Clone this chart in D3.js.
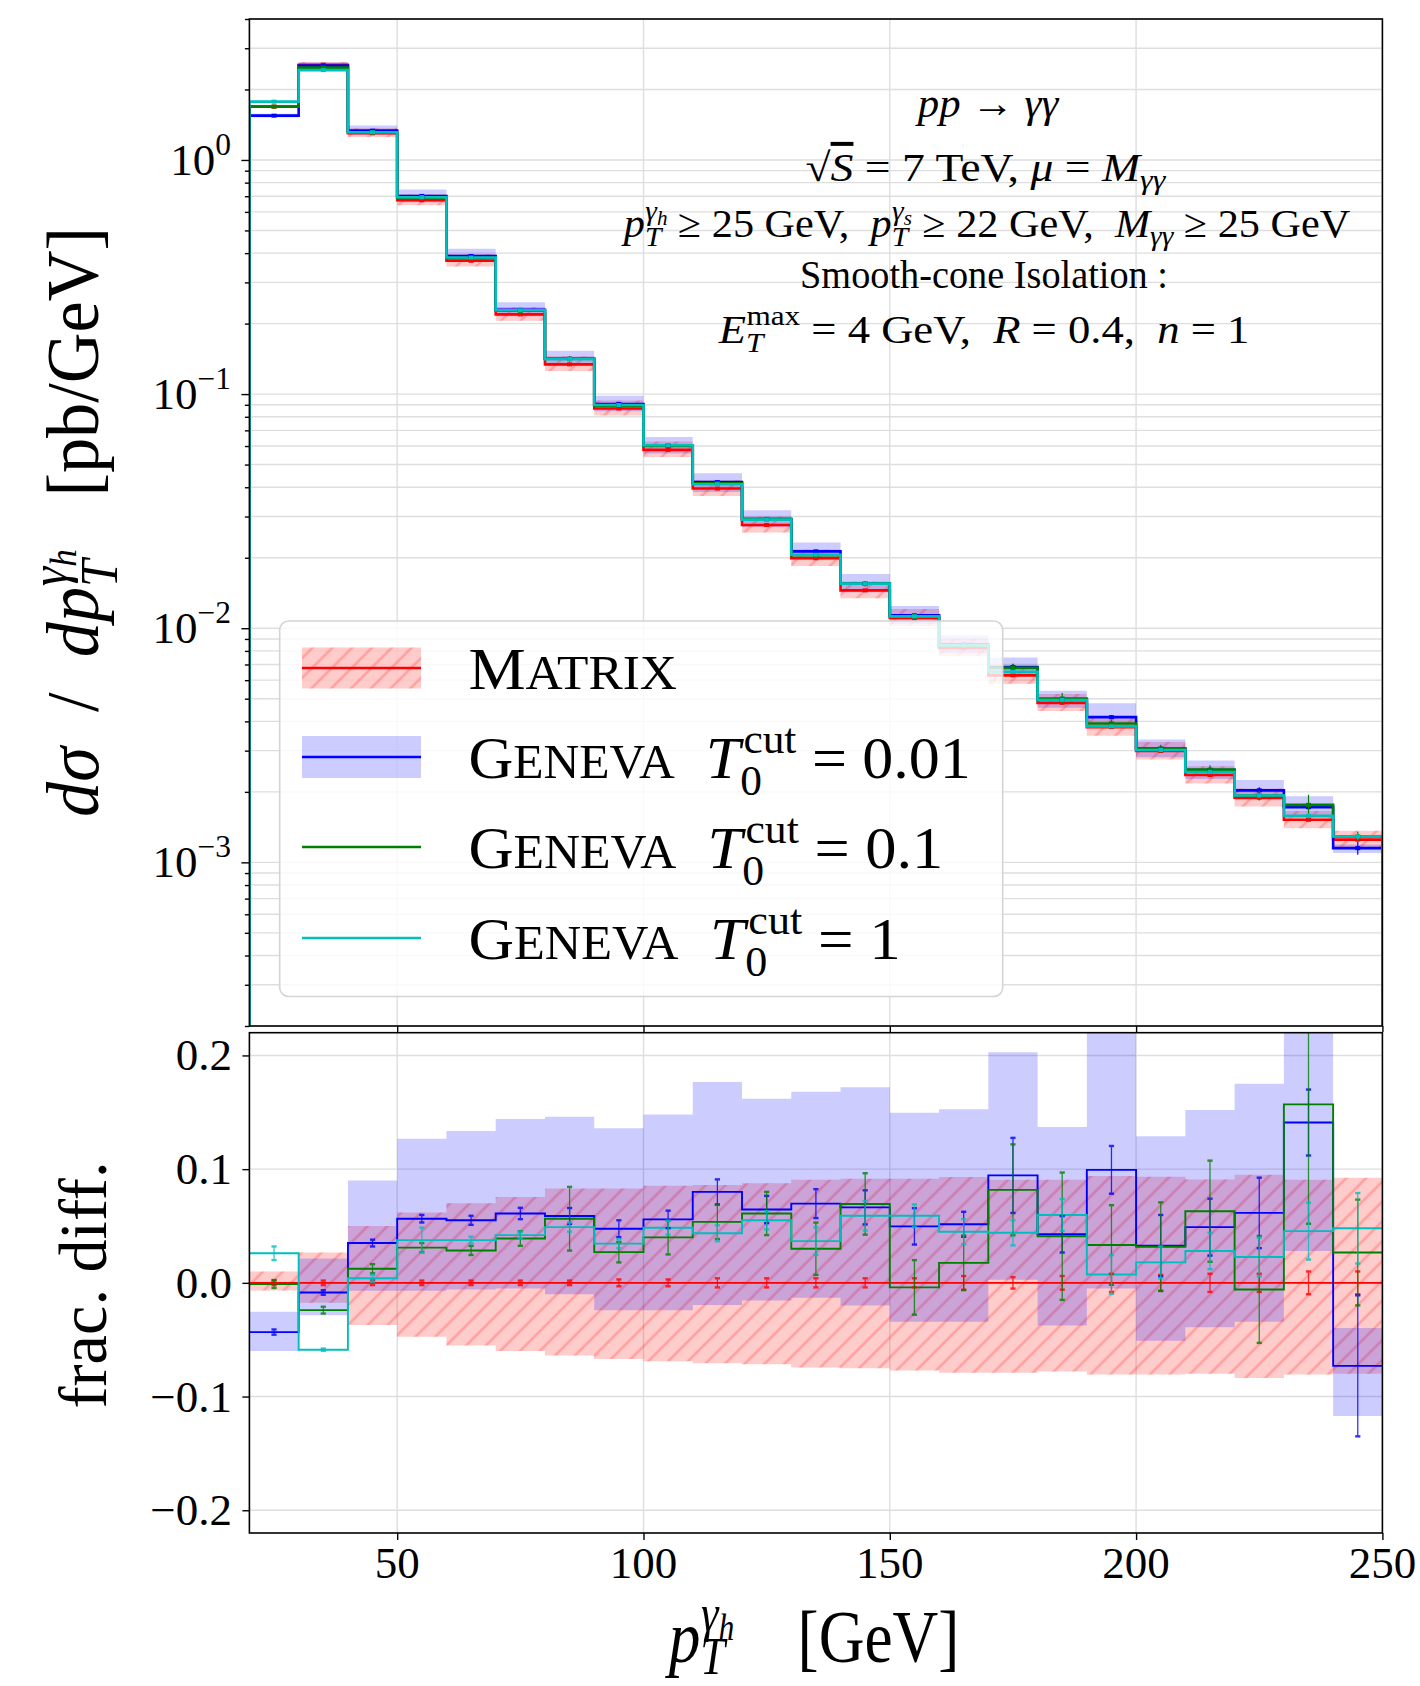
<!DOCTYPE html>
<html>
<head>
<meta charset="utf-8">
<script src="https://cdn.jsdelivr.net/npm/d3@7"></script>
<style>
  html, body { margin: 0; padding: 0; background: #fff; }
  svg { display: block; font-family: "Liberation Serif", "DejaVu Serif", serif; }
</style>
</head>
<body>
<svg id="chart" width="1420" height="1686"></svg>
<script>
// bin edges in GeV
var edges = [20, 30, 40, 50, 60, 70, 80, 90, 100, 110, 120, 130, 140, 150, 160, 170, 180, 190, 200, 210, 220, 230, 240, 250];

// d sigma / d pT  [pb/GeV], upper panel
var matrixTop    = [1.69, 2.55, 1.30, 0.673, 0.371, 0.219, 0.134, 0.0868, 0.0578, 0.0395, 0.0276, 0.0199, 0.01451, 0.01106, 0.00824, 0.00629, 0.0048, 0.00378, 0.00299, 0.00236, 0.00189, 0.00152, 0.00125];
var geneva001Top = [1.546, 2.53, 1.334, 0.702, 0.389, 0.229, 0.1415, 0.0907, 0.0603, 0.0421, 0.0292, 0.0213, 0.0155, 0.01135, 0.00851, 0.00683, 0.00496, 0.00417, 0.00306, 0.00248, 0.00203, 0.00172, 0.00115];
var geneva01Top  = [1.69, 2.48, 1.31, 0.69, 0.381, 0.227, 0.1415, 0.0893, 0.0600, 0.0416, 0.0293, 0.0205, 0.0155, 0.01124, 0.0084, 0.00677, 0.00501, 0.00392, 0.00306, 0.00249, 0.00193, 0.00176, 0.00129];
var geneva1Top   = [1.774, 2.42, 1.313, 0.693, 0.383, 0.228, 0.141, 0.0898, 0.0605, 0.0412, 0.0291, 0.0206, 0.0155, 0.01124, 0.00845, 0.00651, 0.00494, 0.00381, 0.00302, 0.00243, 0.00193, 0.00158, 0.00129];

// fractional difference to Matrix, lower panel
var fracGeneva001 = [-0.0433, -0.0085, 0.035, 0.0564, 0.055, 0.061, 0.0588, 0.0476, 0.0558, 0.080, 0.0645, 0.0697, 0.0664, 0.0497, 0.0515, 0.0945, 0.0427, 0.0994, 0.0327, 0.049, 0.0615, 0.141, -0.073];
var fracGeneva01  = [-0.001, -0.024, 0.0124, 0.031, 0.0285, 0.039, 0.0564, 0.027, 0.040, 0.0536, 0.061, 0.030, 0.0694, -0.004, 0.0176, 0.0818, 0.041, 0.0333, 0.0318, 0.063, -0.0058, 0.157, 0.0267];
var fracGeneva1   = [0.026, -0.0588, 0.004, 0.0376, 0.0376, 0.042, 0.049, 0.0345, 0.0485, 0.0436, 0.055, 0.0367, 0.059, 0.059, 0.045, 0.044, 0.0597, 0.0073, 0.018, 0.028, 0.0227, 0.0455, 0.048];

// scale-variation bands (fractional, relative to Matrix)
var bandMatrixLo = [-0.0067, -0.0176, -0.037, -0.0473, -0.055, -0.060, -0.064, -0.067, -0.069, -0.0706, -0.0715, -0.0745, -0.075, -0.077, -0.079, -0.079, -0.078, -0.0806, -0.0806, -0.080, -0.0836, -0.0806, -0.080];
var bandMatrixHi = [0.010, 0.0267, 0.050, 0.0618, 0.070, 0.0755, 0.083, 0.083, 0.0855, 0.086, 0.0876, 0.0906, 0.0915, 0.0915, 0.093, 0.0906, 0.0906, 0.094, 0.0933, 0.091, 0.095, 0.0906, 0.0924];
var bandGenevaLo = [-0.060, -0.0285, -0.007, -0.007, -0.0058, -0.005, -0.010, -0.024, -0.024, -0.0194, -0.0155, -0.013, -0.020, -0.0342, -0.0342, 0.0027, -0.0376, -0.005, -0.051, -0.039, -0.0342, 0.028, -0.117];
var bandGenevaHi = [-0.0255, 0.0215, 0.090, 0.1267, 0.1336, 0.144, 0.146, 0.136, 0.148, 0.1767, 0.162, 0.168, 0.172, 0.1497, 0.1527, 0.2027, 0.137, 0.26, 0.129, 0.152, 0.175, 0.27, -0.0397];

// statistical errors (fractional half widths)
var errMatrix    = [0.002, 0.002, 0.002, 0.002, 0.002, 0.002, 0.002, 0.003, 0.003, 0.004, 0.004, 0.004, 0.004, 0.004, 0.006, 0.005, 0.006, 0.008, 0.007, 0.008, 0.008, 0.010, 0.010];
var errGeneva001 = [0.0023, 0.002, 0.003, 0.0033, 0.004, 0.005, 0.007, 0.0074, 0.0077, 0.011, 0.012, 0.0127, 0.015, 0.016, 0.011, 0.033, 0.016, 0.021, 0.027, 0.025, 0.031, 0.029, 0.062];
var errGeneva01  = [0.0035, 0.003, 0.004, 0.004, 0.004, 0.0064, 0.028, 0.009, 0.015, 0.015, 0.019, 0.023, 0.027, 0.024, 0.024, 0.04, 0.056, 0.035, 0.039, 0.0445, 0.047, 0.105, 0.0465];
var errGeneva1   = [0.006, 0.001, 0.003, 0.011, 0.003, 0.003, 0.004, 0.004, 0.006, 0.007, 0.008, 0.012, 0.013, 0.010, 0.011, 0.011, 0.014, 0.017, 0.014, 0.016, 0.017, 0.025, 0.031];

var xTicks = [50, 100, 150, 200, 250];
var logTicks = [1e-3, 1e-2, 1e-1, 1];
var logTickExp = ["\u22123", "\u22122", "\u22121", "0"];
var ratioTicks = [-0.2, -0.1, 0.0, 0.1, 0.2];

var series = [
  { name: "Matrix", top: matrixTop, frac: null, err: errMatrix, color: "#ff0000" },
  { name: "Geneva 0.01", top: geneva001Top, frac: fracGeneva001, err: errGeneva001, color: "#0000ff" },
  { name: "Geneva 0.1", top: geneva01Top, frac: fracGeneva01, err: errGeneva01, color: "#008000" },
  { name: "Geneva 1", top: geneva1Top, frac: fracGeneva1, err: errGeneva1, color: "#00bfbf" }
];

var L = 249.4, R = 1382.4, T1 = 19, B1 = 1026, T2 = 1032.7, B2 = 1533;

var x = d3.scaleLinear().domain([20, 250]).range([L, R]);
var yTop = d3.scaleLog().domain([2e-4, 4]).range([B1, T1]);
var yRat = d3.scaleLinear().domain([-0.22, 0.22]).range([B2, T2]);

var svg = d3.select("#chart");
var defs = svg.append("defs");
defs.append("clipPath").attr("id", "clipTop").append("rect")
  .attr("x", L).attr("y", T1).attr("width", R - L).attr("height", B1 - T1);
defs.append("clipPath").attr("id", "clipBot").append("rect")
  .attr("x", L).attr("y", T2).attr("width", R - L).attr("height", B2 - T2);
var hatch = defs.append("pattern").attr("id", "hatch")
  .attr("patternUnits", "userSpaceOnUse").attr("width", 14).attr("height", 14)
  .attr("patternTransform", "rotate(45)");
hatch.append("line").attr("x1", 7).attr("y1", -2).attr("x2", 7).attr("y2", 16)
  .attr("stroke", "rgba(255,0,0,0.22)").attr("stroke-width", 2.6);

var mids = edges.slice(0, -1).map(function (e, i) { return (e + edges[i + 1]) / 2; });

// steps: one point per bin plus the closing edge
function stepPts(vals) {
  var pts = vals.map(function (v, i) { return [edges[i], v]; });
  pts.push([edges[edges.length - 1], vals[vals.length - 1]]);
  return pts;
}
function bandPts(lo, hi) {
  var pts = lo.map(function (v, i) { return [edges[i], v, hi[i]]; });
  pts.push([edges[edges.length - 1], lo[lo.length - 1], hi[hi.length - 1]]);
  return pts;
}

// ---------- grids ----------
var gTop = svg.append("g");
var gBot = svg.append("g");

var minorTop = yTop.ticks();
gTop.append("g").selectAll("line").data(minorTop).enter().append("line")
  .attr("x1", L).attr("x2", R)
  .attr("y1", function (d) { return yTop(d); }).attr("y2", function (d) { return yTop(d); })
  .attr("stroke", "#dedede").attr("stroke-width", 1.4);
gTop.append("g").selectAll("line").data(xTicks.slice(0, -1)).enter().append("line")
  .attr("y1", T1).attr("y2", B1)
  .attr("x1", function (d) { return x(d); }).attr("x2", function (d) { return x(d); })
  .attr("stroke", "#dedede").attr("stroke-width", 1.4);

gBot.append("g").selectAll("line").data(ratioTicks).enter().append("line")
  .attr("x1", L).attr("x2", R)
  .attr("y1", function (d) { return yRat(d); }).attr("y2", function (d) { return yRat(d); })
  .attr("stroke", "#dedede").attr("stroke-width", 1.4);
gBot.append("g").selectAll("line").data(xTicks.slice(0, -1)).enter().append("line")
  .attr("y1", T2).attr("y2", B2)
  .attr("x1", function (d) { return x(d); }).attr("x2", function (d) { return x(d); })
  .attr("stroke", "#dedede").attr("stroke-width", 1.4);

// ---------- upper panel ----------
var plotTop = gTop.append("g").attr("clip-path", "url(#clipTop)");
var areaTop = d3.area().curve(d3.curveStepAfter)
  .x(function (d) { return x(d[0]); })
  .y0(function (d) { return yTop(d[1]); })
  .y1(function (d) { return yTop(d[2]); });

var redLoTop = matrixTop.map(function (v, i) { return v * (1 + bandMatrixLo[i]); });
var redHiTop = matrixTop.map(function (v, i) { return v * (1 + bandMatrixHi[i]); });
var blueLoTop = geneva001Top.map(function (v, i) { return v * (1 + bandGenevaLo[i]) / (1 + fracGeneva001[i]); });
var blueHiTop = geneva001Top.map(function (v, i) { return v * (1 + bandGenevaHi[i]) / (1 + fracGeneva001[i]); });

plotTop.append("path").attr("d", areaTop(bandPts(redLoTop, redHiTop))).attr("fill", "rgba(255,0,0,0.2)");
plotTop.append("path").attr("d", areaTop(bandPts(redLoTop, redHiTop))).attr("fill", "url(#hatch)");
plotTop.append("path").attr("d", areaTop(bandPts(blueLoTop, blueHiTop))).attr("fill", "rgba(0,0,255,0.2)");

var lineTop = d3.line().curve(d3.curveStepAfter)
  .x(function (d) { return x(d[0]); })
  .y(function (d) { return d[1] === null ? B1 + 5 : yTop(d[1]); });

series.forEach(function (s) {
  var pts = [[edges[0], null]].concat(stepPts(s.top));
  pts.push([edges[edges.length - 1], null]);
  plotTop.append("path").attr("d", lineTop(pts))
    .attr("fill", "none").attr("stroke", s.color).attr("stroke-width", 2.6);
});
series.forEach(function (s) {
  var g = plotTop.append("g");
  s.top.forEach(function (v, i) {
    var cx = x(mids[i]);
    var ya = yTop(v * (1 + s.err[i])), yb = yTop(v * (1 - s.err[i]));
    g.append("line").attr("x1", cx).attr("x2", cx).attr("y1", ya).attr("y2", yb)
      .attr("stroke", s.color).attr("stroke-width", 1.2);
    g.append("rect").attr("x", cx - 2.5).attr("y", yTop(v) - 2).attr("width", 5).attr("height", 4)
      .attr("fill", s.color);
  });
});

// ---------- lower panel ----------
var plotBot = gBot.append("g").attr("clip-path", "url(#clipBot)");
var areaBot = d3.area().curve(d3.curveStepAfter)
  .x(function (d) { return x(d[0]); })
  .y0(function (d) { return yRat(d[1]); })
  .y1(function (d) { return yRat(d[2]); });
plotBot.append("path").attr("d", areaBot(bandPts(bandMatrixLo, bandMatrixHi))).attr("fill", "rgba(255,0,0,0.2)");
plotBot.append("path").attr("d", areaBot(bandPts(bandMatrixLo, bandMatrixHi))).attr("fill", "url(#hatch)");
plotBot.append("path").attr("d", areaBot(bandPts(bandGenevaLo, bandGenevaHi))).attr("fill", "rgba(0,0,255,0.2)");

var lineBot = d3.line().curve(d3.curveStepAfter)
  .x(function (d) { return x(d[0]); })
  .y(function (d) { return yRat(d[1]); });
var zeros = matrixTop.map(function () { return 0; });
series.forEach(function (s) {
  var vals = s.frac || zeros;
  plotBot.append("path").attr("d", lineBot(stepPts(vals)))
    .attr("fill", "none").attr("stroke", s.color).attr("stroke-width", 1.9);
});
series.forEach(function (s) {
  var vals = s.frac || zeros;
  var g = plotBot.append("g").attr("opacity", 0.8);
  vals.forEach(function (v, i) {
    var cx = x(mids[i]);
    var ya = yRat(v + s.err[i]), yb = yRat(v - s.err[i]);
    g.append("line").attr("x1", cx).attr("x2", cx).attr("y1", ya).attr("y2", yb)
      .attr("stroke", s.color).attr("stroke-width", 1.3);
    [ya, yb].forEach(function (yy) {
      g.append("line").attr("x1", cx - 2.6).attr("x2", cx + 2.6).attr("y1", yy).attr("y2", yy)
        .attr("stroke", s.color).attr("stroke-width", 2.4);
    });
  });
});

// ---------- frames & axes ----------
[[T1, B1], [T2, B2]].forEach(function (p) {
  svg.append("rect").attr("x", L).attr("y", p[0]).attr("width", R - L).attr("height", p[1] - p[0])
    .attr("fill", "none").attr("stroke", "#000").attr("stroke-width", 1.6);
});

var axTopX = d3.axisBottom(x).tickValues(xTicks).tickSize(6).tickFormat("");
svg.append("g").attr("transform", "translate(0," + B1 + ")").call(axTopX);
var axBotX = d3.axisBottom(x).tickValues(xTicks).tickSize(7).tickFormat("");
svg.append("g").attr("transform", "translate(0," + B2 + ")").call(axBotX);
var axTopY = d3.axisLeft(yTop).tickValues(logTicks).tickSize(8).tickFormat("");
svg.append("g").attr("transform", "translate(" + L + ",0)").call(axTopY);
var axTopYm = d3.axisLeft(yTop).tickValues(minorTop.filter(function (d) { return logTicks.indexOf(d) < 0; }))
  .tickSize(4.5).tickFormat("");
svg.append("g").attr("transform", "translate(" + L + ",0)").call(axTopYm);
var axBotY = d3.axisLeft(yRat).tickValues(ratioTicks).tickSize(7).tickFormat("");
svg.append("g").attr("transform", "translate(" + L + ",0)").call(axBotY);
svg.selectAll(".domain").remove();
svg.selectAll(".tick line").attr("stroke", "#000").attr("stroke-width", 1.4);

// tick labels
var fTick = 45;
svg.append("g").selectAll("text").data(xTicks).enter().append("text")
  .attr("x", function (d) { return x(d); }).attr("y", 1578)
  .attr("text-anchor", "middle").attr("font-size", fTick)
  .text(function (d) { return d; });
var fmt = d3.format(".1f");
svg.append("g").selectAll("text").data(ratioTicks).enter().append("text")
  .attr("x", 232).attr("y", function (d) { return yRat(d) + 15; })
  .attr("text-anchor", "end").attr("font-size", fTick)
  .text(function (d) { return fmt(d); });
logTicks.forEach(function (d, i) {
  var t = svg.append("text").attr("x", 231).attr("y", yTop(d) + 15)
    .attr("text-anchor", "end").attr("font-size", fTick);
  t.append("tspan").text("10");
  t.append("tspan").text(logTickExp[i]).attr("font-size", fTick * 0.7).attr("dy", -fTick * 0.45);
});

// ---------- math-ish text helpers ----------
function mathText(parent, parts, size) {
  var t = parent.append("text").attr("font-size", size).style("white-space", "pre");
  var cur = 0;
  parts.forEach(function (p) {
    var off = (p.dy || 0) * size;
    var ts = t.append("tspan").text(p.t)
      .attr("font-size", size * (p.s || 1))
      .attr("dy", off - cur);
    if (p.dx) ts.attr("dx", p.dx * size);
    if (p.it) ts.attr("font-style", "italic");
    if (p.ov) ts.attr("text-decoration", "overline");
    cur = off;
  });
  return t;
}
function place(t, px, py, w, anchor, rot) {
  t.attr("text-anchor", anchor);
  var bb = t.node().getBBox();
  var sx = w ? w / bb.width : 1;
  t.attr("transform", "translate(" + px + "," + py + ")" + (rot ? " rotate(" + rot + ")" : "") + " scale(" + sx + ",1)");
}
function ptLabel(sub, lo) {
  return [
    { t: "p", it: 1 },
    { t: "T", it: 1, s: 0.7, dy: lo },
    { t: "\u03b3", it: 1, s: 0.7, dy: -0.42, dx: -0.38 },
    { t: sub, it: 1, s: 0.5, dy: -0.3 }
  ];
}

// annotation block
var ann = svg.append("g");
var fAnn = 40;
place(mathText(ann, [{ t: "pp", it: 1 }, { t: " \u2192 " }, { t: "\u03b3\u03b3", it: 1 }], fAnn), 988, 117, 145, "middle");
place(mathText(ann, [{ t: "\u221a" }, { t: "S", it: 1, ov: 1 }, { t: " = 7 TeV, " }, { t: "\u03bc", it: 1 }, { t: " = " },
  { t: "M", it: 1 }, { t: "\u03b3\u03b3", it: 1, s: 0.7, dy: 0.2 }], fAnn), 985.4, 181, 361, "middle");
place(mathText(ann, ptLabel("h", 0.22).concat([{ t: " \u2265 25 GeV,  " }]).concat(ptLabel("s", 0.22))
  .concat([{ t: " \u2265 22 GeV,  " }, { t: "M", it: 1 }, { t: "\u03b3\u03b3", it: 1, s: 0.7, dy: 0.2 }, { t: " \u2265 25 GeV" }]), fAnn),
  987, 237, 730, "middle");
place(mathText(ann, [{ t: "Smooth-cone Isolation :" }], fAnn), 984, 288, 368, "middle");
place(mathText(ann, [{ t: "E", it: 1 }, { t: "T", it: 1, s: 0.7, dy: 0.22 }, { t: "max", s: 0.7, dy: -0.45, dx: -0.38 },
  { t: " = 4 GeV,  " }, { t: "R", it: 1 }, { t: " = 0.4,  " }, { t: "n", it: 1 }, { t: " = 1" }], fAnn), 984, 343, 532, "middle");

// axis titles
place(mathText(svg, ptLabel("h", 0.16).concat([{ t: "    [GeV]" }]), 75), 814, 1662, 295, "middle");
place(mathText(svg, [{ t: "d\u03c3", it: 1 }, { t: "  /  " }, { t: "dp", it: 1 }, { t: "T", it: 1, s: 0.7, dy: 0.25 },
  { t: "\u03b3", it: 1, s: 0.7, dy: -0.42, dx: -0.38 }, { t: "h", it: 1, s: 0.5, dy: -0.3 }, { t: "   [pb/GeV]" }], 75),
  98, 522, 590, "middle", -90);
place(mathText(svg, [{ t: "frac. diff." }], 68), 106, 1285, 247, "middle", -90);

// ---------- legend ----------
var leg = svg.append("g");
leg.append("rect").attr("x", 279.7).attr("y", 621).attr("width", 723).attr("height", 375.5).attr("rx", 9)
  .attr("fill", "rgba(255,255,255,0.8)").attr("stroke", "#d4d4d4").attr("stroke-width", 1.6);
var legY = [668, 757, 847, 938];
var hx0 = 302, hx1 = 421;
leg.append("rect").attr("x", hx0).attr("y", legY[0] - 20.5).attr("width", hx1 - hx0).attr("height", 41).attr("fill", "rgba(255,0,0,0.2)");
leg.append("rect").attr("x", hx0).attr("y", legY[0] - 20.5).attr("width", hx1 - hx0).attr("height", 41).attr("fill", "url(#hatch)");
leg.append("rect").attr("x", hx0).attr("y", legY[1] - 21).attr("width", hx1 - hx0).attr("height", 42).attr("fill", "rgba(0,0,255,0.2)");
series.forEach(function (s, i) {
  leg.append("line").attr("x1", hx0).attr("x2", hx1).attr("y1", legY[i]).attr("y2", legY[i])
    .attr("stroke", s.color).attr("stroke-width", 2.4);
});
var fLeg = 60;
function genevaLabel(v) {
  return [{ t: "G" }, { t: "ENEVA", s: 0.8 }, { t: "  " }, { t: "T", it: 1 }, { t: "0", s: 0.7, dy: 0.28 },
    { t: "cut", s: 0.7, dy: -0.42, dx: -0.3 }, { t: " = " + v }];
}
place(mathText(leg, [{ t: "M" }, { t: "ATRIX", s: 0.8 }], fLeg), 468.4, legY[0] + 21, 208.6, "start");
place(mathText(leg, genevaLabel("0.01"), fLeg), 468.4, legY[1] + 21, 502.6, "start");
place(mathText(leg, genevaLabel("0.1"), fLeg), 468.4, legY[2] + 21, 475, "start");
place(mathText(leg, genevaLabel("1"), fLeg), 468.4, legY[3] + 21, 432.6, "start");
</script>
</body>
</html>
